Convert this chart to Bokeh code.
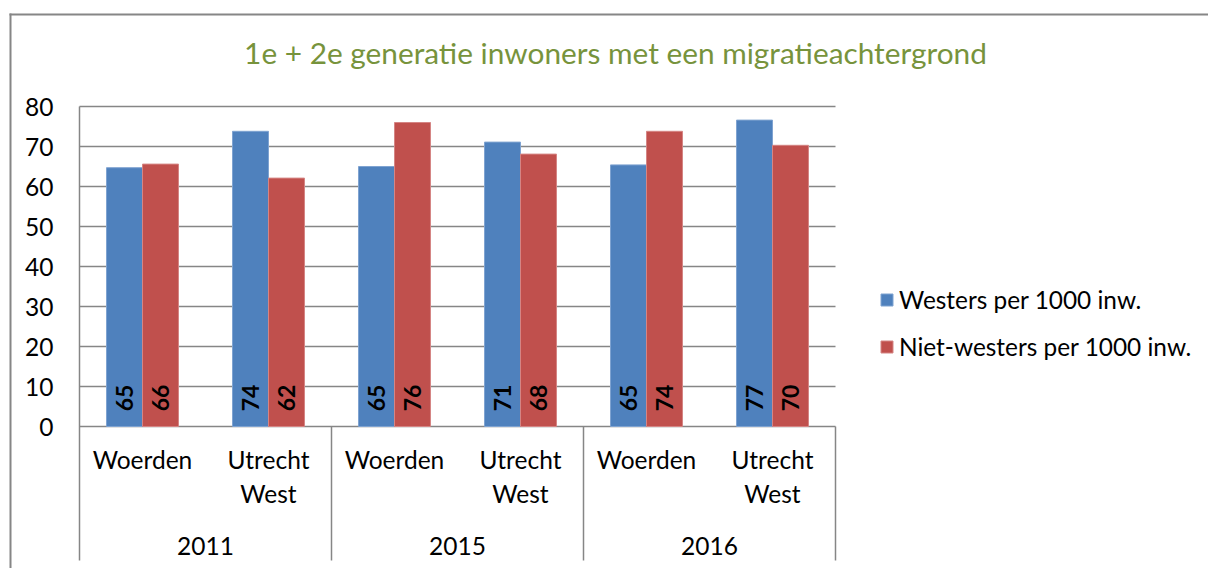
import math
from bokeh.plotting import figure
from bokeh.models import Range1d, FixedTicker, ColumnDataSource, Legend, LegendItem
from bokeh.transform import dodge
from bokeh.core.properties import value
from bokeh.embed import file_html
from bokeh.resources import INLINE

# ---------------- data ----------------
title_text = "1e + 2e generatie inwoners met een migratieachtergrond"
years = ["2011", "2015", "2016"]
places = ["Woerden", "Utrecht West"]
series_names = ["Westers per 1000 inw.", "Niet-westers per 1000 inw."]
westers = [64.7, 73.8, 65.0, 71.1, 65.4, 76.6]
niet_westers = [65.6, 62.1, 76.0, 68.1, 73.8, 70.3]
y_ticks = [0, 10, 20, 30, 40, 50, 60, 70, 80]

# ---------------- styling / layout ----------------
FONT = "Lato"
BLUE = "#4F81BD"
RED = "#C0504D"
GRAY = "#868686"
TITLE_GREEN = "#77933C"

W, H = 1208, 568
ORIGIN_X, ORIGIN_Y = 79, 426      # pixel position of (category 0, value 0)
PX_PER_CAT = 126                  # pixels per category slot
PX_PER_UNIT = 4                   # pixels per value unit


def px_x(px):
    return (px - ORIGIN_X) / PX_PER_CAT


def px_y(py):
    return (ORIGIN_Y - py) / PX_PER_UNIT


cats = [(y, pl) for y in years for pl in places]
n = len(cats)
xs = [i + 0.5 for i in range(n)]
place_labels = [pl.replace(" ", "\n") for (_, pl) in cats]
year_x = [len(places) * j + len(places) / 2 for j in range(len(years))]
sep_x = [len(places) * (j + 1) for j in range(len(years))]
y_top = max(y_ticks)

BAR_W = 0.2857
SEP_END = px_y(560)

p = figure(width=W, height=H, output_backend="svg", toolbar_location=None,
           x_range=Range1d(px_x(0), px_x(W)), y_range=Range1d(px_y(H), px_y(0)),
           min_border=0, x_axis_location=None)
p.outline_line_color = None
p.background_fill_color = "white"
p.border_fill_color = "white"
p.grid.visible = False

# value axis drawn at category position 0
yax = p.yaxis[0]
yax.fixed_location = 0
yax.ticker = FixedTicker(ticks=y_ticks)
yax.axis_line_color = None
yax.major_tick_line_color = None
yax.minor_tick_line_color = None
yax.major_tick_out = 0
yax.major_tick_in = 0
yax.major_label_standoff = 26
yax.major_label_text_font = FONT
yax.major_label_text_font_size = "24.5px"
yax.major_label_text_color = "black"

# chart-area border (top and left edges)
p.quad(left=px_x(9), right=px_x(W), top=px_y(13), bottom=px_y(15),
       fill_color=GRAY, line_color=None)
p.quad(left=px_x(9), right=px_x(11), top=px_y(13), bottom=px_y(H),
       fill_color=GRAY, line_color=None)

# title
p.text(x=[px_x(615)], y=[px_y(52)], text=[title_text], text_align="center",
       text_baseline="middle", text_font=value(FONT), text_font_size="29.8px",
       text_color=TITLE_GREEN)

# horizontal gridlines over the category area only, value-axis line
p.segment(x0=0, x1=n, y0=y_ticks, y1=y_ticks, line_color=GRAY, line_width=1.5)
p.segment(x0=[0], x1=[0], y0=[y_top], y1=[SEP_END], line_color=GRAY, line_width=1.5)

src = ColumnDataSource(dict(
    x=xs, westers=westers, niet=niet_westers,
    lw=[f"{v:.0f}" for v in westers], ln=[f"{v:.0f}" for v in niet_westers]))

r1 = p.vbar(x=dodge("x", -BAR_W / 2, range=p.x_range), top="westers", bottom=0,
            width=BAR_W, source=src, fill_color=BLUE, line_color="#7fa3d1", line_width=1)
r2 = p.vbar(x=dodge("x", BAR_W / 2, range=p.x_range), top="niet", bottom=0,
            width=BAR_W, source=src, fill_color=RED, line_color="#d58584", line_width=1)

for col, off in (("lw", -BAR_W / 2), ("ln", BAR_W / 2)):
    p.text(x=dodge("x", off, range=p.x_range), y=3.8, text=col, source=src,
           angle=math.pi / 2, text_align="left", text_baseline="middle",
           text_font=value(FONT), text_font_style="bold", text_font_size="23px",
           text_color="black")

# two-level category axis
p.text(x=xs, y=-4.6, text=place_labels, text_align="center", text_baseline="top",
       text_font=value(FONT), text_font_size="24.5px", text_color="black",
       text_line_height=1.16)
p.text(x=year_x, y=-29.75, text=years, text_align="center", text_baseline="middle",
       text_font=value(FONT), text_font_size="24.5px", text_color="black")
p.segment(x0=sep_x, y0=0, x1=sep_x, y1=SEP_END, line_color=GRAY, line_width=1.5)

legend = Legend(items=[LegendItem(label=series_names[0], renderers=[r1]),
                       LegendItem(label=series_names[1], renderers=[r2])],
                location=(879, 207), orientation="vertical",
                padding=0, margin=0, spacing=18, glyph_width=15, glyph_height=15,
                label_standoff=5, label_height=22,
                label_text_font=FONT, label_text_font_size="24.4px",
                label_text_color="black",
                border_line_color=None, background_fill_alpha=0)
p.add_layout(legend)

open("out.html", "w").write(file_html(p, INLINE))
